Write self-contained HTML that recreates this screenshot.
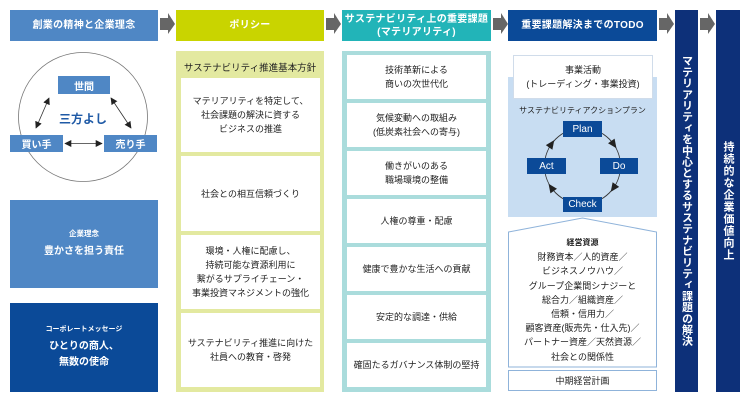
<!DOCTYPE html>
<html><head><meta charset="utf-8"><style>
*{margin:0;padding:0;box-sizing:border-box}
html,body{width:750px;height:404px;overflow:hidden;background:#fff}
body{position:relative;font-family:"Liberation Sans","Noto Sans CJK JP",sans-serif;color:#222}
.a{position:absolute}
.c{position:absolute;display:flex;align-items:center;justify-content:center;text-align:center;flex-direction:column}
.hdr{color:#fff;font-weight:bold;font-size:10px;line-height:13px;letter-spacing:0.3px}
.wb{background:#fff;font-size:9px;line-height:14px;color:#222}
.bl{background:#4f87c5;color:#fff;font-weight:bold}
.dk{background:#0b4a98;color:#fff}
.vt{writing-mode:vertical-rl;color:#fff;font-weight:bold;font-size:11px;letter-spacing:0.2px}
</style></head><body>

<!-- headers -->
<div class="c hdr" style="left:10px;top:10px;width:148px;height:31px;background:#4f87c5">創業の精神と企業理念</div>
<div class="c hdr" style="left:176px;top:10px;width:148px;height:31px;background:#c9d400">ポリシー</div>
<div class="c hdr" style="left:342px;top:10px;width:149px;height:31px;background:#22b4b8">サステナビリティ上の重要課題<br>(マテリアリティ)</div>
<div class="c hdr" style="left:508px;top:10px;width:149px;height:31px;background:#0b4a98">重要課題解決までのTODO</div>

<!-- gray arrows -->
<svg class="a" style="left:0;top:0" width="750" height="50">
<g fill="#666">
<polygon points="160,18 168,18 168,13 175,24 168,34 168,30 160,30"/>
<polygon points="326,18 334,18 334,13 341,24 334,34 334,30 326,30"/>
<polygon points="493,18 501,18 501,13 508,24 501,34 501,30 493,30"/>
<polygon points="659,18 667,18 667,13 674,24 667,34 667,30 659,30"/>
<polygon points="700,18 708,18 708,13 715,24 708,34 708,30 700,30"/>
</g>
</svg>

<!-- left circle diagram -->
<svg class="a" style="left:0;top:0" width="170" height="190">
<defs>
<marker id="ah" viewBox="0 0 10 10" refX="9" refY="5" markerWidth="7" markerHeight="7" orient="auto-start-reverse" markerUnits="userSpaceOnUse">
<path d="M0,0 L10,5 L0,10 z" fill="#222"/>
</marker>
</defs>
<circle cx="83" cy="117" r="64.5" fill="none" stroke="#777" stroke-width="0.8"/>
<line x1="49" y1="98" x2="36" y2="128" stroke="#333" stroke-width="0.8" marker-start="url(#ah)" marker-end="url(#ah)"/>
<line x1="111" y1="98" x2="131" y2="128" stroke="#333" stroke-width="0.8" marker-start="url(#ah)" marker-end="url(#ah)"/>
<line x1="65" y1="143.5" x2="102" y2="143.5" stroke="#333" stroke-width="0.8" marker-start="url(#ah)" marker-end="url(#ah)"/>
</svg>
<div class="c bl" style="left:58px;top:76px;width:52px;height:18px;font-size:10px">世間</div>
<div class="c bl" style="left:10px;top:135px;width:53px;height:17px;font-size:10px">買い手</div>
<div class="c bl" style="left:104px;top:135px;width:53px;height:17px;font-size:10px">売り手</div>
<div class="c" style="left:50px;top:110px;width:66px;height:16px;font-size:12px;font-weight:bold;color:#1f5aa6">三方よし</div>

<div class="c bl" style="left:10px;top:200px;width:148px;height:88px">
<div style="font-size:7.5px;line-height:10px">企業理念</div>
<div style="font-size:10px;line-height:14px;margin-top:6px">豊かさを担う責任</div>
</div>
<div class="c dk" style="left:10px;top:303px;width:148px;height:89px;font-weight:bold">
<div style="font-size:7px;line-height:10px">コーポレートメッセージ</div>
<div style="font-size:10px;line-height:16px;margin-top:4px">ひとりの商人、<br>無数の使命</div>
</div>

<!-- policy column -->
<div class="a" style="left:176px;top:51px;width:148px;height:341px;background:#e3e9a0"></div>
<div class="c" style="left:176px;top:58px;width:148px;height:18px;font-size:9.5px;color:#222">サステナビリティ推進基本方針</div>
<div class="c wb" style="left:181px;top:78px;width:139px;height:74px">マテリアリティを特定して、<br>社会課題の解決に資する<br>ビジネスの推進</div>
<div class="c wb" style="left:181px;top:156px;width:139px;height:75px">社会との相互信頼づくり</div>
<div class="c wb" style="left:181px;top:235px;width:139px;height:74px">環境・人権に配慮し、<br>持続可能な資源利用に<br>繋がるサプライチェーン・<br>事業投資マネジメントの強化</div>
<div class="c wb" style="left:181px;top:313px;width:139px;height:74px">サステナビリティ推進に向けた<br>社員への教育・啓発</div>

<!-- materiality column -->
<div class="a" style="left:342px;top:51px;width:149px;height:341px;background:#aadcdc"></div>
<div class="c wb" style="left:347px;top:55px;width:139px;height:44px">技術革新による<br>商いの次世代化</div>
<div class="c wb" style="left:347px;top:103px;width:139px;height:44px">気候変動への取組み<br>(低炭素社会への寄与)</div>
<div class="c wb" style="left:347px;top:151px;width:139px;height:44px">働きがいのある<br>職場環境の整備</div>
<div class="c wb" style="left:347px;top:199px;width:139px;height:44px">人権の尊重・配慮</div>
<div class="c wb" style="left:347px;top:247px;width:139px;height:44px">健康で豊かな生活への貢献</div>
<div class="c wb" style="left:347px;top:295px;width:139px;height:44px">安定的な調達・供給</div>
<div class="c wb" style="left:347px;top:343px;width:139px;height:44px">確固たるガバナンス体制の堅持</div>

<!-- TODO column -->
<div class="a" style="left:508px;top:77px;width:149px;height:140px;background:#c8ddf2"></div>
<div class="c wb" style="left:513px;top:55px;width:140px;height:44px;border:1px solid #d0dcea;font-size:9px">事業活動<br>(トレーディング・事業投資)</div>
<div class="c" style="left:508px;top:103px;width:149px;height:14px;font-size:8px;color:#222">サステナビリティアクションプラン</div>
<svg class="a" style="left:500px;top:100px" width="170" height="120">
<circle cx="82.5" cy="66" r="38" fill="none" stroke="#333" stroke-width="0.9"/>
<g fill="#222">
<polygon points="5,0 -4,-4 -4,4" transform="translate(113.6,44.2) rotate(55)"/>
<polygon points="5,0 -4,-4 -4,4" transform="translate(113.6,87.8) rotate(125)"/>
<polygon points="5,0 -4,-4 -4,4" transform="translate(51.4,87.8) rotate(235)"/>
<polygon points="5,0 -4,-4 -4,4" transform="translate(51.4,44.2) rotate(305)"/>
</g>
</svg>
<div class="c dk" style="left:563px;top:121px;width:39px;height:16px;font-size:10px">Plan</div>
<div class="c dk" style="left:600px;top:158px;width:38px;height:16px;font-size:10px">Do</div>
<div class="c dk" style="left:527px;top:158px;width:39px;height:16px;font-size:10px">Act</div>
<div class="c dk" style="left:563px;top:197px;width:39px;height:15px;font-size:10px">Check</div>

<svg class="a" style="left:500px;top:210px" width="170" height="165">
<polygon points="8.5,22 82.5,8 156.5,22 156.5,157 8.5,157" fill="#fff" stroke="#8fb3da" stroke-width="1"/>
</svg>
<div class="a" style="left:508px;top:236px;width:149px;text-align:center;font-size:9px;line-height:14.2px;color:#222">
<div style="font-weight:bold;font-size:8px">経営資源</div>
財務資本／人的資産／<br>ビジネスノウハウ／<br>グループ企業間シナジーと<br>総合力／組織資産／<br>信頼・信用力／<br>顧客資産(販売先・仕入先)／<br>パートナー資産／天然資源／<br>社会との関係性
</div>
<div class="c wb" style="left:508px;top:370px;width:149px;height:21px;border:1px solid #8fb3da;font-size:9px">中期経営計画</div>

<!-- vertical bars -->
<div class="a" style="left:675px;top:10px;width:23px;height:382px;background:#0d3079"></div>
<div class="c" style="left:675px;top:10px;width:23px;height:382px">
<div class="vt">マテリアリティを中心とするサステナビリティ課題の解決</div>
</div>
<div class="a" style="left:716px;top:10px;width:24px;height:382px;background:#0d3079"></div>
<div class="c" style="left:716px;top:10px;width:24px;height:382px">
<div class="vt" style="letter-spacing:1px">持続的な企業価値向上</div>
</div>

</body></html>
